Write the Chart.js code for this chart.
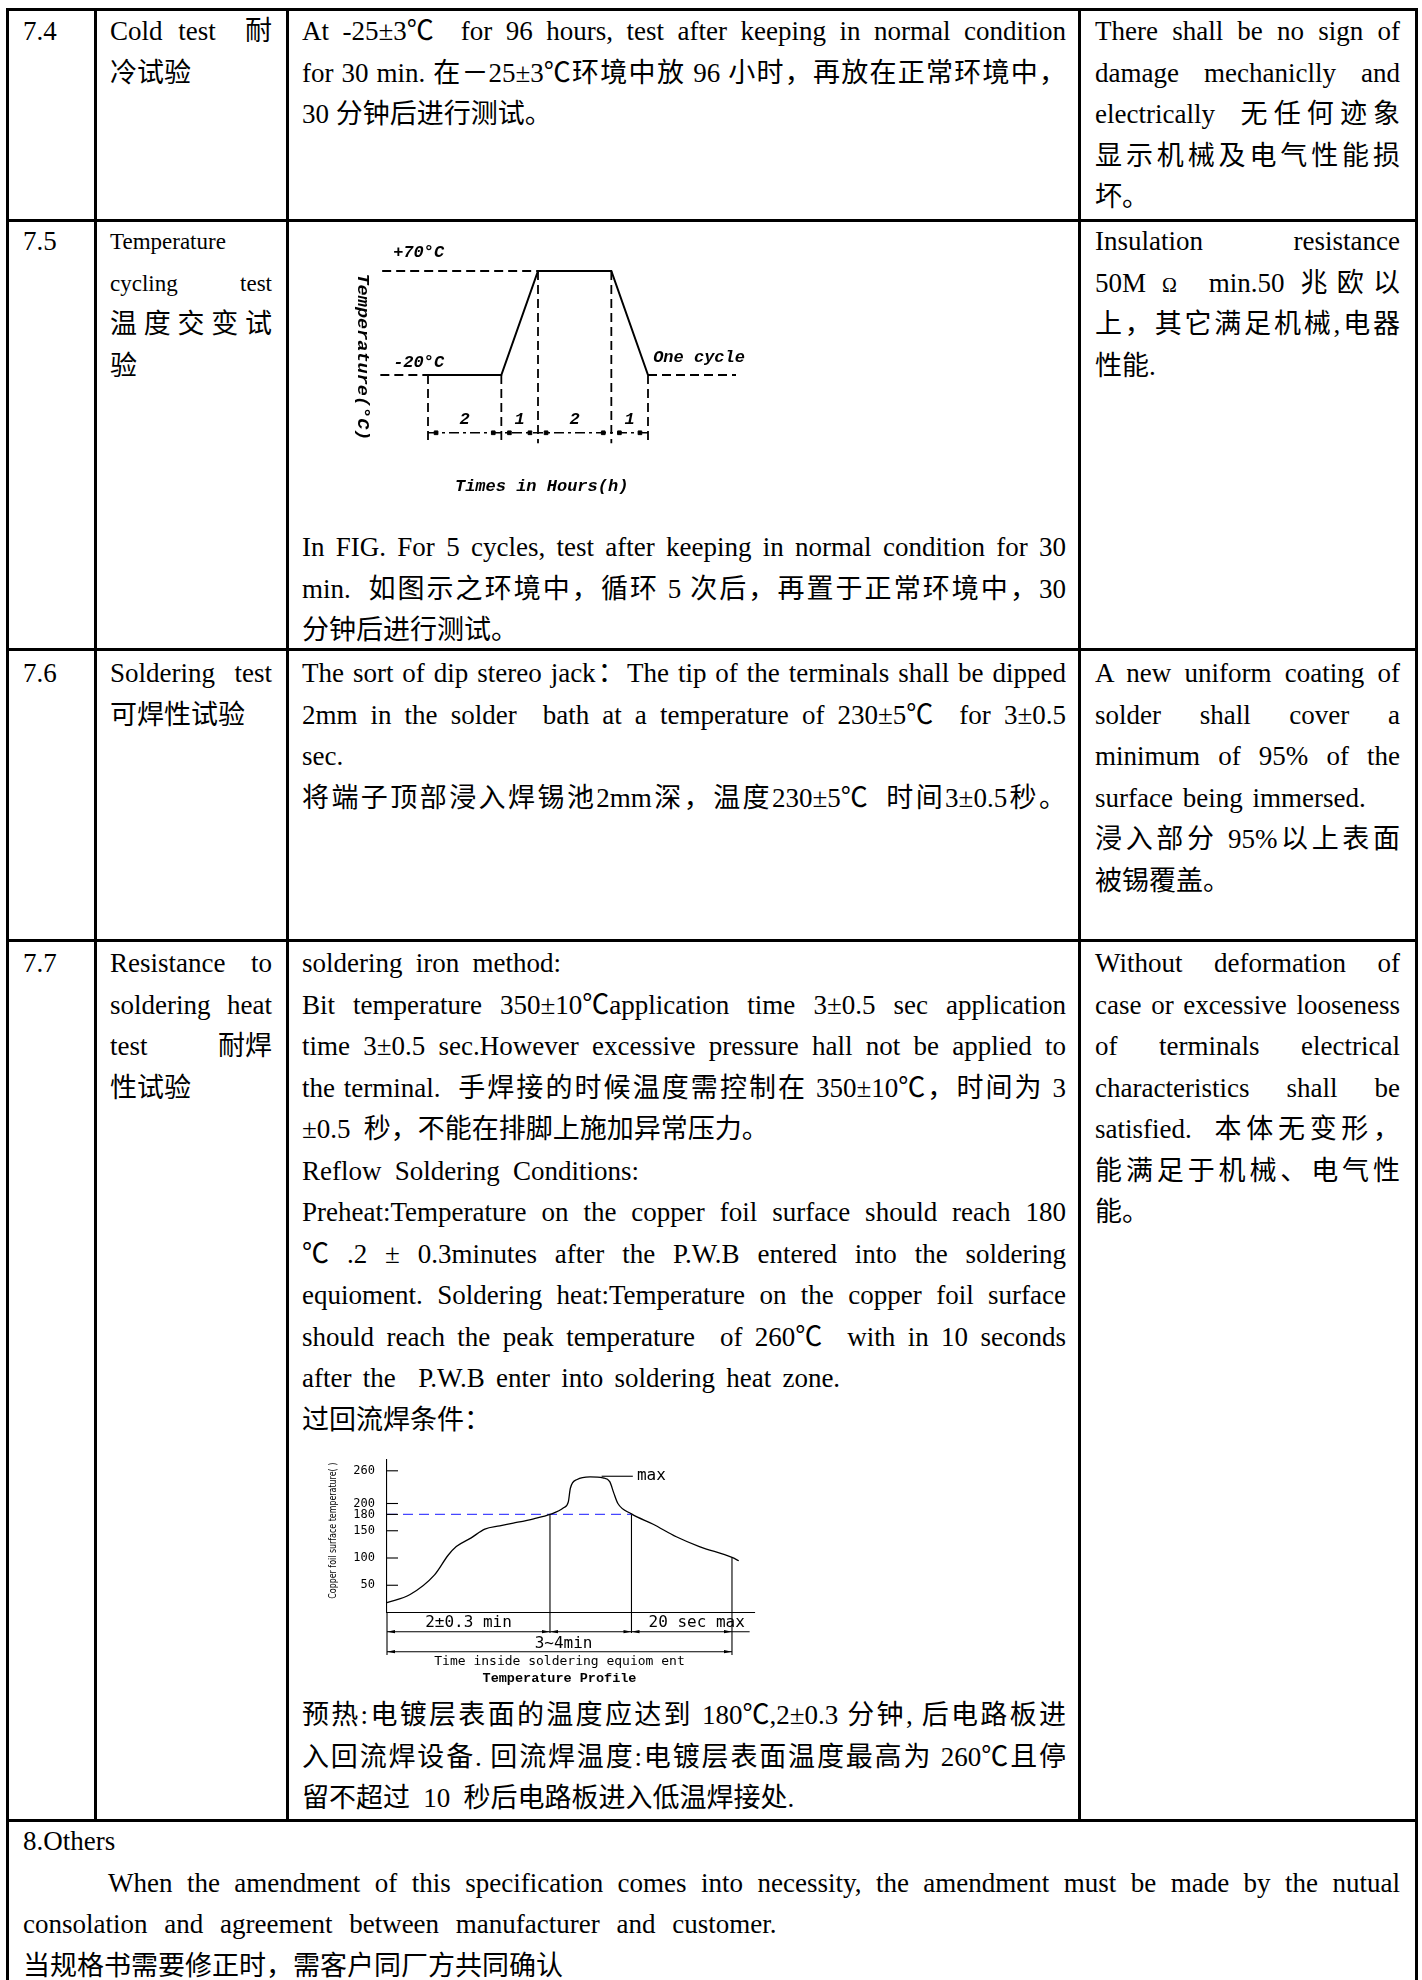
<!DOCTYPE html>
<html>
<head>
<meta charset="utf-8">
<script src="https://cdn.jsdelivr.net/npm/chart.js@4.4.0/dist/chart.umd.min.js"></script>
<style>
html,body{margin:0;padding:0;background:#fff;}
#page{position:relative;width:1422px;height:1980px;overflow:hidden;background:#fff;
  font-family:"Liberation Serif","Times New Roman","Noto Sans CJK SC",serif;font-size:27px;color:#000;}
.hl{position:absolute;height:3px;background:#000;}
.vl{position:absolute;width:3px;background:#000;}
.cell{position:absolute;}
.ln{height:41.5px;line-height:41.5px;white-space:nowrap;word-spacing:6.5px;}
.j{text-align:justify;text-align-last:justify;word-spacing:0;}
.fx{display:flex;justify-content:space-between;}
.sm{font-size:23px;}
.dc{display:inline-block;}
.box{position:absolute;}
</style>
</head>
<body>
<div id="page">
  <!-- grid lines -->
  <div class="hl" style="left:5.5px;top:7.5px;width:1412px"></div>
  <div class="hl" style="left:5.5px;top:219px;width:1412px"></div>
  <div class="hl" style="left:5.5px;top:648px;width:1412px"></div>
  <div class="hl" style="left:5.5px;top:939px;width:1412px"></div>
  <div class="hl" style="left:5.5px;top:1818.5px;width:1412px"></div>
  <div class="vl" style="left:5.5px;top:7.5px;height:1980px"></div>
  <div class="vl" style="left:1414.5px;top:7.5px;height:1980px"></div>
  <div class="vl" style="left:93.5px;top:7.5px;height:1813px"></div>
  <div class="vl" style="left:285.5px;top:7.5px;height:1813px"></div>
  <div class="vl" style="left:1077.5px;top:7.5px;height:1813px"></div>

  <!-- 7.4 -->
  <div class="cell" style="left:23px;top:11px;width:60px"><div class="ln">7.4</div></div>
  <div class="cell" style="left:110px;top:11px;width:162px">
    <div class="ln fx"><span style="word-spacing:9px">Cold test</span><span>耐</span></div><div class="ln">冷试验</div>
  </div>
  <div class="cell" style="left:302px;top:11px;width:764px">
    <div class="ln j">At -25±3<span class="dc">℃</span> &nbsp;for 96 hours, test after keeping in normal condition</div>
    <div class="ln j">for 30 min. 在－25±3<span class="dc">℃</span>环境中放 96 小时，再放在正常环境中，</div>
    <div class="ln" style="word-spacing:0">30 分钟后进行测试。</div>
  </div>
  <div class="cell" style="left:1095px;top:11px;width:305px">
    <div class="ln j">There shall be no sign of</div>
    <div class="ln j">damage mechaniclly and</div>
    <div class="ln j">electrically &nbsp;无任何迹象</div>
    <div class="ln j">显示机械及电气性能损</div>
    <div class="ln">坏。</div>
  </div>

  <!-- 7.5 -->
  <div class="cell" style="left:23px;top:221px;width:60px"><div class="ln">7.5</div></div>
  <div class="cell" style="left:110px;top:221px;width:162px">
    <div class="ln sm">Temperature</div>
    <div class="ln sm j">cycling test</div>
    <div class="ln j">温度交变试</div>
    <div class="ln">验</div>
  </div>
  <div class="box" style="left:340px;top:225px;width:440px;height:290px"><canvas id="cycleChart"></canvas></div>
  <div class="cell" style="left:302px;top:527px;width:764px">
    <div class="ln j">In FIG. For 5 cycles, test after keeping in normal condition for 30</div>
    <div class="ln j">min. &nbsp;如图示之环境中，循环 5 次后，再置于正常环境中，30</div>
    <div class="ln">分钟后进行测试。</div>
  </div>
  <div class="cell" style="left:1095px;top:221px;width:305px">
    <div class="ln j">Insulation resistance</div>
    <div class="ln j">50M <span style="font-size:20px">Ω</span> &nbsp;min.50 兆欧以</div>
    <div class="ln j">上，其它满足机械,电器</div>
    <div class="ln">性能.</div>
  </div>

  <!-- 7.6 -->
  <div class="cell" style="left:23px;top:653px;width:60px"><div class="ln">7.6</div></div>
  <div class="cell" style="left:110px;top:653px;width:162px">
    <div class="ln j">Soldering test</div><div class="ln">可焊性试验</div>
  </div>
  <div class="cell" style="left:302px;top:653px;width:764px">
    <div class="ln j">The sort of dip stereo jack：The tip of the terminals shall be dipped</div>
    <div class="ln j">2mm in the solder &nbsp;bath at a temperature of 230±5<span class="dc">℃</span> &nbsp;for 3±0.5</div>
    <div class="ln">sec.</div>
    <div class="ln j">将端子顶部浸入焊锡池2mm深，温度230±5<span class="dc">℃</span> &nbsp;时间3±0.5秒。</div>
  </div>
  <div class="cell" style="left:1095px;top:653px;width:305px">
    <div class="ln j">A new uniform coating of</div>
    <div class="ln j">solder shall cover a</div>
    <div class="ln j">minimum of 95% of the</div>
    <div class="ln" style="word-spacing:3px">surface being immersed.</div>
    <div class="ln j">浸入部分 95%以上表面</div>
    <div class="ln">被锡覆盖。</div>
  </div>

  <!-- 7.7 -->
  <div class="cell" style="left:23px;top:943px;width:60px"><div class="ln">7.7</div></div>
  <div class="cell" style="left:110px;top:943px;width:162px">
    <div class="ln j">Resistance to</div>
    <div class="ln j">soldering heat</div>
    <div class="ln fx"><span>test</span><span>耐焊</span></div>
    <div class="ln">性试验</div>
  </div>
  <div class="cell" style="left:302px;top:943px;width:764px">
    <div class="ln">soldering iron method:</div>
    <div class="ln j">Bit temperature 350±10<span class="dc">℃</span>application time 3±0.5 sec application</div>
    <div class="ln j">time 3±0.5 sec.However excessive pressure hall not be applied to</div>
    <div class="ln j">the terminal. &nbsp;手焊接的时候温度需控制在 350±10<span class="dc">℃</span>，时间为 3</div>
    <div class="ln">±0.5 秒，不能在排脚上施加异常压力。</div>
    <div class="ln">Reflow Soldering Conditions:</div>
    <div class="ln j">Preheat:Temperature on the copper foil surface should reach 180</div>
    <div class="ln j"><span class="dc">℃</span> .2 ± 0.3minutes after the P.W.B entered into the soldering</div>
    <div class="ln j">equioment. Soldering heat:Temperature on the copper foil surface</div>
    <div class="ln j">should reach the peak temperature &nbsp;of 260<span class="dc">℃</span> &nbsp;with in 10 seconds</div>
    <div class="ln" style="word-spacing:4.5px">after the &nbsp;P.W.B enter into soldering heat zone.</div>
    <div class="ln">过回流焊条件：</div>
  </div>
  <div class="box" style="left:300px;top:1440px;width:470px;height:255px"><canvas id="profileChart"></canvas></div>
  <div class="cell" style="left:302px;top:1695px;width:764px">
    <div class="ln j">预热:电镀层表面的温度应达到 180<span class="dc">℃</span>,2±0.3 分钟, 后电路板进</div>
    <div class="ln j">入回流焊设备. 回流焊温度:电镀层表面温度最高为 260<span class="dc">℃</span>且停</div>
    <div class="ln">留不超过 10 秒后电路板进入低温焊接处.</div>
  </div>
  <div class="cell" style="left:1095px;top:943px;width:305px">
    <div class="ln j">Without deformation of</div>
    <div class="ln j">case or excessive looseness</div>
    <div class="ln j">of terminals electrical</div>
    <div class="ln j">characteristics shall be</div>
    <div class="ln j">satisfied. &nbsp;本体无变形，</div>
    <div class="ln j">能满足于机械、电气性</div>
    <div class="ln">能。</div>
  </div>

  <!-- 8 -->
  <div class="cell" style="left:23px;top:1821px;width:1377px">
    <div class="ln">8.Others</div>
    <div class="ln j" style="text-indent:85px">When the amendment of this specification comes into necessity, the amendment must be made by the nutual</div>
    <div class="ln" style="word-spacing:10px">consolation and agreement between manufacturer and customer.</div>
    <div class="ln">当规格书需要修正时，需客户同厂方共同确认</div>
  </div>
</div>

<script>
// ---------- Data: temperature cycling (hours, °C) ----------
const cycleHours = [0, 2, 3, 5, 6];
const cycleTemps = [-20, -20, 70, 70, -20];
const cycleSegmentLabels = ['2', '1', '2', '1'];
const cycleLevelLabels = ['+70°C', '-20°C'];
const cycleLevels = [70, -20];
const cycleLeadIn = -1.3;
const cycleLeadOut = 8.4;
const cycleHighLeadIn = -1.25;
const cycleDimLevel = -70;
const cycleExtBottom = -79;

// ---------- Data: reflow temperature profile (seconds, °C) ----------
const profileSeconds = [0, 17, 35, 45, 51, 62, 72, 83, 93, 108, 120, 130, 133.5, 135, 140, 149.5, 159, 164, 167, 170, 180, 196, 213, 230, 254, 259];
const profileTemps   = [18, 33, 69, 105, 121, 137, 153, 159, 164, 172, 180, 192, 203, 228, 244, 249, 247, 240, 219, 200, 181, 162, 139, 121, 101, 95];
const profileTicks = [50, 100, 150, 180, 200, 260];
const profileLiquidus = 180;
const profileMarks = [0, 120, 180, 254];      // start, preheat end, reflow end, profile end
const profileAxisEnd = 271;
const profileDim1Level = -35.2, profileDim1End = 267, profileDim2Level = -71.9;
const profileExtShort = -37.6, profileExtLong = -78;

Chart.defaults.color = '#000';
Chart.defaults.animation = false;

const pts = (xs, ys) => xs.map((x, i) => ({x, y: ys[i]}));
const line = (data, extra) => Object.assign({data, borderColor:'#000', borderWidth:1.8, pointRadius:0, showLine:true, fill:false, clip:false, tension:0}, extra || {});

// ---------- Chart 1 ----------
const dash = {borderDash:[9,5], borderWidth:1.8};
const cycleSets = [line(pts(cycleHours, cycleTemps), {borderWidth:2})];
cycleSets.push(line([{x:cycleLeadIn,y:cycleTemps[0]},{x:cycleHours[0],y:cycleTemps[0]}], dash));
cycleSets.push(line([{x:cycleHours[4],y:cycleTemps[4]},{x:cycleLeadOut,y:cycleTemps[4]}], dash));
cycleSets.push(line([{x:cycleHighLeadIn,y:cycleLevels[0]},{x:cycleHours[2],y:cycleLevels[0]}], dash));
cycleHours.forEach((h,i) => cycleSets.push(line([{x:h,y:cycleTemps[i]},{x:h,y:cycleExtBottom}], dash)));
cycleSets.push(line([{x:cycleHours[0],y:cycleDimLevel},{x:cycleHours[4],y:cycleDimLevel}], {borderDash:[10,4,3,4], borderWidth:1.5}));
const dots = [];
for (let i = 0; i < cycleHours.length - 1; i++) {
  dots.push({x:cycleHours[i] + 0.22, y:cycleDimLevel});
  dots.push({x:cycleHours[i+1] - 0.22, y:cycleDimLevel});
}
cycleSets.push({data:dots, showLine:false, pointRadius:2.6, pointStyle:'rect', backgroundColor:'#000', borderColor:'#000', clip:false});

const monoFont = 'bold italic 17px "Liberation Mono", monospace';
const cycleLabels = {
  id:'cycleLabels',
  afterDatasetsDraw(chart) {
    const {ctx, scales:{x, y}} = chart;
    ctx.save();
    ctx.fillStyle = '#000';
    ctx.font = monoFont;
    ctx.textBaseline = 'middle';
    ctx.textAlign = 'left';
    ctx.fillText(cycleLevelLabels[0], x.getPixelForValue(-0.95), y.getPixelForValue(cycleLevels[0] + 15.6));
    ctx.fillText(cycleLevelLabels[1], x.getPixelForValue(-0.95), y.getPixelForValue(cycleLevels[1] + 10.4));
    ctx.fillText('One cycle', x.getPixelForValue(6.14), y.getPixelForValue(cycleLevels[1] + 14.7));
    ctx.textAlign = 'center';
    for (let i = 0; i < cycleSegmentLabels.length; i++) {
      const c = (cycleHours[i] + cycleHours[i+1]) / 2;
      ctx.fillText(cycleSegmentLabels[i], x.getPixelForValue(c), y.getPixelForValue(-59));
    }
    ctx.fillText('Times in Hours(h)', x.getPixelForValue(3.1), y.getPixelForValue(-117));
    ctx.translate(x.getPixelForValue(-1.8), y.getPixelForValue(-4.4));
    ctx.rotate(Math.PI / 2);
    const t = 'Temperature(°C)';
    const w = ctx.measureText(t).width;
    ctx.scale(167 / w, 1);
    ctx.fillText(t, 0, 0);
    ctx.restore();
  }
};

new Chart(document.getElementById('cycleChart'), {
  type:'scatter',
  data:{datasets:cycleSets},
  options:{
    responsive:true, maintainAspectRatio:false, events:[],
    layout:{padding:{left:14.67, right:22, top:22.9, bottom:59.1}},
    plugins:{legend:{display:false}, tooltip:{enabled:false}},
    scales:{
      x:{type:'linear', min:-2, max:9, display:false},
      y:{type:'linear', min:-90, max:90, display:false}
    }
  },
  plugins:[cycleLabels]
});

// ---------- Chart 2 ----------
const thin = {borderWidth:1.1};
const profSets = [line(pts(profileSeconds, profileTemps), {borderWidth:1.3, cubicInterpolationMode:'monotone'})];
profSets.push(line([{x:0,y:profileLiquidus},{x:profileMarks[2],y:profileLiquidus}], {borderColor:'#4646ff', borderWidth:1.2, borderDash:[10,6]}));
profSets.push(line([{x:0,y:0},{x:profileAxisEnd,y:0}], thin));
profSets.push(line([{x:profileMarks[0],y:0},{x:profileMarks[0],y:profileExtLong}], thin));
profSets.push(line([{x:profileMarks[1],y:profileLiquidus},{x:profileMarks[1],y:profileExtShort}], thin));
profSets.push(line([{x:profileMarks[2],y:profileLiquidus},{x:profileMarks[2],y:profileExtShort}], thin));
profSets.push(line([{x:profileMarks[3],y:profileTemps[profileSeconds.indexOf(254)]},{x:profileMarks[3],y:profileExtLong}], thin));
profSets.push(line([{x:0,y:profileDim1Level},{x:profileDim1End,y:profileDim1Level}], thin));
profSets.push(line([{x:0,y:profileDim2Level},{x:profileMarks[3],y:profileDim2Level}], thin));
profSets.push(line([{x:158,y:250},{x:181,y:250}], thin));

function arrow(ctx, px, py, dir) {
  ctx.beginPath();
  ctx.moveTo(px, py);
  ctx.lineTo(px - dir * 8, py - 1.6);
  ctx.lineTo(px - dir * 8, py + 1.6);
  ctx.closePath();
  ctx.fill();
}

const profDecor = {
  id:'profDecor',
  afterDatasetsDraw(chart) {
    const {ctx, scales:{x, y}, chartArea} = chart;
    ctx.save();
    ctx.strokeStyle = '#000';
    ctx.fillStyle = '#000';
    ctx.lineWidth = 1.1;
    profileTicks.forEach(v => {
      const py = y.getPixelForValue(v);
      ctx.beginPath(); ctx.moveTo(chartArea.left, py); ctx.lineTo(chartArea.left + 11, py); ctx.stroke();
    });
    for (let i = 0; i < 3; i++) {
      const a = profileMarks[i], b = profileMarks[i+1];
      arrow(ctx, x.getPixelForValue(a), y.getPixelForValue(profileDim1Level), -1);
      arrow(ctx, x.getPixelForValue(b), y.getPixelForValue(profileDim1Level), 1);
    }
    arrow(ctx, x.getPixelForValue(0), y.getPixelForValue(profileDim2Level), -1);
    arrow(ctx, x.getPixelForValue(profileMarks[3]), y.getPixelForValue(profileDim2Level), 1);
    ctx.textBaseline = 'middle';
    ctx.textAlign = 'center';
    ctx.font = '16px "DejaVu Sans Mono", monospace';
    ctx.fillText('2±0.3 min', x.getPixelForValue(60), y.getPixelForValue(-19.3));
    ctx.fillText('20 sec max', x.getPixelForValue(228), y.getPixelForValue(-19.3));
    ctx.fillText('3~4min', x.getPixelForValue(130), y.getPixelForValue(-58));
    ctx.textAlign = 'left';
    ctx.fillText('max', x.getPixelForValue(184), y.getPixelForValue(250));
    ctx.textAlign = 'center';
    ctx.font = '13px "DejaVu Sans Mono", monospace';
    ctx.fillText('Time inside soldering equiom ent', x.getPixelForValue(127), y.getPixelForValue(-91));
    ctx.font = 'bold 13.5px "Liberation Mono", monospace';
    ctx.fillText('Temperature Profile', x.getPixelForValue(127), y.getPixelForValue(-122));
    ctx.font = '11px "Liberation Sans Narrow", "DejaVu Sans Condensed", sans-serif';
    ctx.translate(33, y.getPixelForValue(150));
    ctx.rotate(-Math.PI / 2);
    const t = 'Copper foil surface temperature( )';
    const w = ctx.measureText(t).width;
    ctx.scale(136 / w, 1);
    ctx.fillText(t, 0, 0);
    ctx.restore();
  }
};

new Chart(document.getElementById('profileChart'), {
  type:'scatter',
  data:{datasets:profSets},
  options:{
    responsive:true, maintainAspectRatio:false, events:[],
    layout:{padding:{left:27, right:9.5, top:19.9, bottom:82.5}},
    plugins:{legend:{display:false}, tooltip:{enabled:false}},
    scales:{
      x:{type:'linear', min:0, max:275, display:false},
      y:{type:'linear', min:0, max:280,
         afterFit(s){ s.width = 60; },
         afterBuildTicks(s){ s.ticks = profileTicks.map(v => ({value:v})); },
         grid:{display:false, drawTicks:false},
         border:{display:true, color:'#000', width:1.1},
         ticks:{autoSkip:false, padding:12, font:{family:'"DejaVu Sans Mono", monospace', size:12}, color:'#000'}
      }
    }
  },
  plugins:[profDecor]
});
</script>
</body>
</html>
